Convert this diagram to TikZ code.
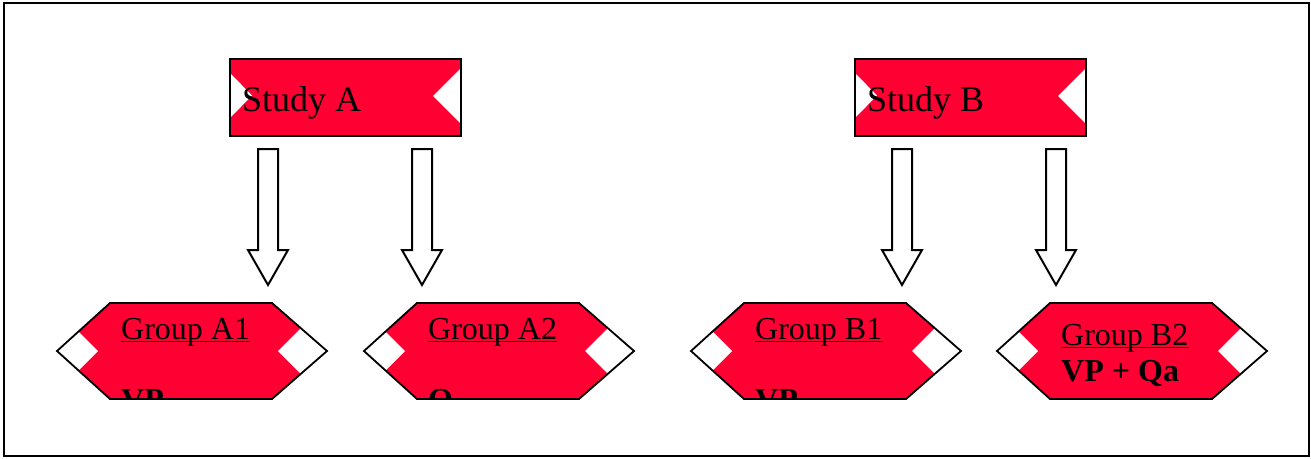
\documentclass[tikz,border=0pt]{standalone}
\usepackage{fontspec}
\setmainfont{Liberation Serif}
\definecolor{boxred}{RGB}{255,0,51}
\tikzset{
  outline/.style={draw=black,line width=1.8pt,line join=miter},
  studytxt/.style={inner sep=0pt,anchor=base west,font=\fontsize{36}{43}\selectfont},
  grptxt/.style={inner sep=0pt,anchor=base west,font=\fontsize{32}{38}\selectfont},
  boldtxt/.style={inner sep=0pt,anchor=base west,font=\fontsize{32}{38}\selectfont\bfseries},
  uline/.style={line width=1.8pt},
  blockarrow/.style={draw=black,line width=2pt,fill=white,line join=miter}
}
% #1 left x, #2 name, #3 label, #4 label baseline, #5 second line, #6 second baseline
\newcommand\grouphex[6]{%
  \begin{scope}
    \clip (#1,351) -- (#1+53,303) -- (#1+215,303) -- (#1+270,351) -- (#1+215,399) -- (#1+53,399) -- cycle;
    \fill[boxred] (#1-2,300) rectangle (#1+272,402);
    \fill[white] (#1+41,351) -- (#1,310) -- (#1-41,351) -- (#1,392) -- cycle;
    \fill[white] (#1+221,351) -- (#1+270,302) -- (#1+319,351) -- (#1+270,400) -- cycle;
    \node[grptxt] (#2) at (#1+64,#4) {#3};
    \node[boldtxt] (#2v) at (#1+64,#6) {#5};
  \end{scope}
  \draw[uline] ([yshift=-2.5pt]#2.base west) -- ([yshift=-2.5pt]#2.base east);
  \draw[outline] (#1,351) -- (#1+53,303) -- (#1+215,303) -- (#1+270,351) -- (#1+215,399) -- (#1+53,399) -- cycle;
}
% #1 left x, #2 name, #3 label
\newcommand\studybox[3]{%
  \fill[boxred] (#1,59) rectangle (#1+231,136);
  \fill[white] (#1,73) -- (#1+22,95.5) -- (#1,118) -- cycle;
  \fill[white] (#1+231,68) -- (#1+203,96) -- (#1+231,124) -- cycle;
  \draw[line width=2.4pt] (#1,59) rectangle (#1+231,136);
  \node[studytxt] (#2) at (#1+12,111) {#3};
}
% #1 center x
\newcommand\blockdown[1]{%
  \draw[blockarrow] (#1-10,149) -- (#1+10,149) -- (#1+10,250) -- (#1+20,250) -- (#1,285) -- (#1-20,250) -- (#1-10,250) -- cycle;
}
\begin{document}
\begin{tikzpicture}[x=1pt,y=-1pt]
  \useasboundingbox (0,0) rectangle (1311,458);
  \draw[line width=2.4pt] (4,3) rectangle (1309,456);
  \studybox{230}{studyA}{Study A}
  \studybox{855}{studyB}{Study B}
  \blockdown{268}
  \blockdown{422}
  \blockdown{902}
  \blockdown{1056}
  \grouphex{57}{gA1}{Group A1}{339}{VP}{410}
  \grouphex{364}{gA2}{Group A2}{339}{Q}{410}
  \grouphex{691}{gB1}{Group B1}{339}{VP}{410}
  \grouphex{997}{gB2}{Group B2}{345}{VP + Qa}{381}
\end{tikzpicture}
\end{document}
